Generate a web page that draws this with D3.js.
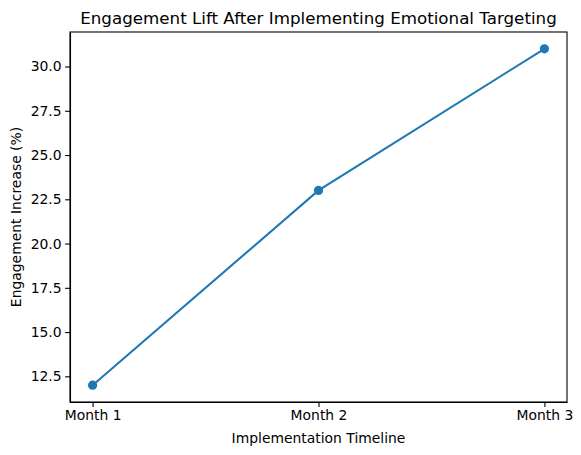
<!DOCTYPE html>
<html lang="en">
  <head>
    <meta charset="UTF-8" />
    <title>Engagement Lift</title>
    <style>
      body { margin: 0; background: #fff; }
      svg text { font-family: "DejaVu Sans", sans-serif; fill: #000; }
      .axis path, .axis line { stroke: #000; stroke-width: 1.1; }
      .data-line { fill: none; stroke: #1f77b4; stroke-width: 2.08; }
    </style>
  </head>
  <body>
    <script src="https://cdn.jsdelivr.net/npm/d3@7/dist/d3.min.js"></script>
    <script>
      // chart data
      var months = ["Month 1", "Month 2", "Month 3"];
      var increase = [12, 23, 31];
      var yTicks = [12.5, 15.0, 17.5, 20.0, 22.5, 25.0, 27.5, 30.0];

      var w = 581, h = 455;
      var margin = { top: 32, left: 70, right: 14, bottom: 53 };
      var iw = w - margin.left - margin.right;
      var ih = h - margin.top - margin.bottom;

      var svg = d3.select("body").append("svg")
                  .attr("width", w)
                  .attr("height", h);

      var g = svg.append("g")
                 .attr("transform", "translate(" + margin.left + "," + margin.top + ")");

      // matplotlib style 5% margins
      var xScale = d3.scaleLinear()
                     .domain([-0.1, months.length - 1 + 0.1])
                     .range([0, iw]);

      var yMin = d3.min(increase), yMax = d3.max(increase);
      var pad = (yMax - yMin) * 0.05;
      var yScale = d3.scaleLinear()
                     .domain([yMin - pad, yMax + pad])
                     .range([ih, 0]);

      var xAxis = d3.axisBottom(xScale)
                    .tickValues(d3.range(months.length))
                    .tickFormat(function(d) { return months[d]; })
                    .tickSize(4.9)
                    .tickPadding(3)
                    .tickSizeOuter(0);

      var yAxis = d3.axisLeft(yScale)
                    .tickValues(yTicks)
                    .tickFormat(d3.format(".1f"))
                    .tickSize(4.9)
                    .tickPadding(3.5)
                    .tickSizeOuter(0);

      g.append("g")
       .attr("class", "axis")
       .attr("transform", "translate(0," + ih + ")")
       .call(xAxis)
       .selectAll("text").style("font-size", "13.9px");

      g.append("g")
       .attr("class", "axis")
       .call(yAxis)
       .selectAll("text").style("font-size", "13.9px");

      // frame
      g.append("rect")
       .attr("width", iw)
       .attr("height", ih)
       .attr("fill", "none")
       .attr("stroke", "#000")
       .attr("stroke-width", 1.1);

      var line = d3.line()
                   .x(function(d, i) { return xScale(i); })
                   .y(function(d) { return yScale(d); });

      g.append("path")
       .datum(increase)
       .attr("class", "data-line")
       .attr("d", line);

      g.selectAll(".dot")
       .data(increase)
       .enter().append("circle")
       .attr("class", "dot")
       .attr("cx", function(d, i) { return xScale(i); })
       .attr("cy", function(d) { return yScale(d); })
       .attr("r", 4.6)
       .attr("fill", "#1f77b4");

      // labels
      svg.append("text")
         .attr("x", margin.left + iw / 2)
         .attr("y", margin.top - 8)
         .attr("text-anchor", "middle")
         .style("font-size", "16.7px")
         .text("Engagement Lift After Implementing Emotional Targeting");

      svg.append("text")
         .attr("x", margin.left + iw / 2)
         .attr("y", h - 12)
         .attr("text-anchor", "middle")
         .style("font-size", "13.9px")
         .text("Implementation Timeline");

      svg.append("text")
         .attr("transform", "translate(21," + (margin.top + ih / 2) + ") rotate(-90)")
         .attr("text-anchor", "middle")
         .style("font-size", "13.9px")
         .text("Engagement Increase (%)");
    </script>
  </body>
</html>
